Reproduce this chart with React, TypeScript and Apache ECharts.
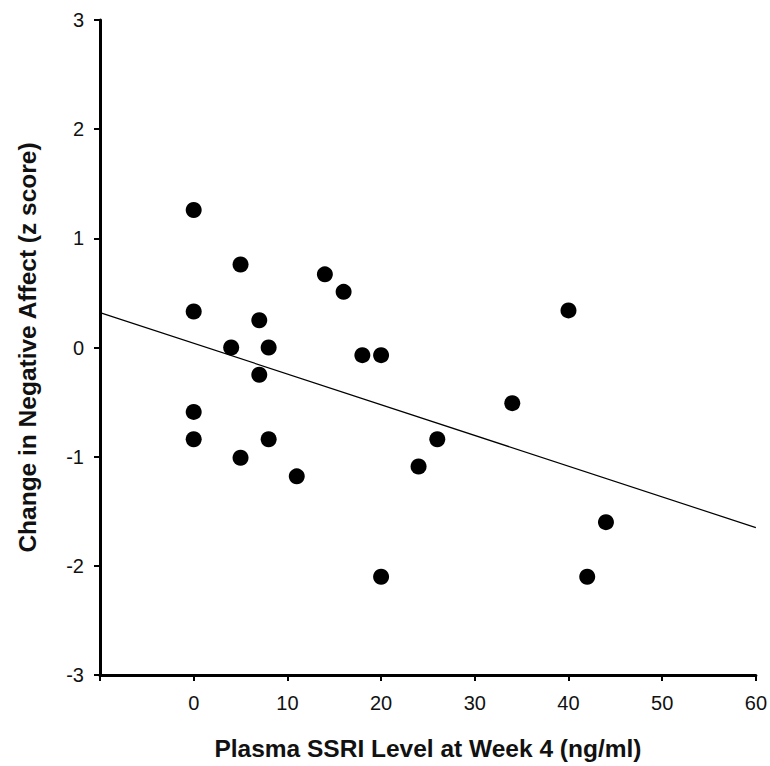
import React, { useEffect, useRef } from "react";
import * as echarts from "echarts";

const ssriLevel = [0, 0, 0, 0, 5, 5, 4, 14, 16, 7, 8, 18, 20, 7, 8, 11, 26, 24, 40, 34, 44, 42, 20];
const affectChange = [1.26, 0.33, -0.59, -0.84, 0.76, -1.01, 0, 0.67, 0.51, 0.25, 0, -0.07, -0.07, -0.25, -0.84, -1.18, -0.84, -1.09, 0.34, -0.51, -1.6, -2.1, -2.1];
const fitLineX = [-10, 60];
const fitLineY = [0.32, -1.65];
const xTicks = [-10, 0, 10, 20, 30, 40, 50, 60];
const yTicks = [-3, -2, -1, 0, 1, 2, 3];

const FONT = "'Liberation Sans', Arial, Helvetica, sans-serif";

export default function App() {
  const ref = useRef<HTMLDivElement>(null);
  useEffect(() => {
    if (!ref.current) return;
    const chart = echarts.init(ref.current, undefined, { renderer: "svg" });
    const points = ssriLevel.map((x, i) => [x, affectChange[i]]);
    const fit = fitLineX.map((x, i) => [x, fitLineY[i]]);
    chart.setOption({
      animation: false,
      backgroundColor: "#ffffff",
      grid: { left: 100, right: 12, top: 20, bottom: 91, containLabel: false },
      xAxis: {
        type: "value",
        min: xTicks[0],
        max: xTicks[xTicks.length - 1],
        interval: 10,
        name: "Plasma SSRI Level at Week 4 (ng/ml)",
        nameLocation: "middle",
        nameGap: 61,
        nameTextStyle: { fontFamily: FONT, fontSize: 24.5, fontWeight: "bold", color: "#111" },
        axisLine: { show: true, onZero: false, lineStyle: { color: "#000", width: 3 } },
        axisTick: { show: true, length: 6, lineStyle: { color: "#000", width: 2 } },
        axisLabel: {
          fontFamily: FONT,
          fontSize: 20,
          color: "#111",
          margin: 18,
          formatter: (v: number) => (v === xTicks[0] ? "" : String(v)),
        },
        splitLine: { show: false },
      },
      yAxis: {
        type: "value",
        min: yTicks[0],
        max: yTicks[yTicks.length - 1],
        interval: 1,
        name: "Change in Negative Affect (z score)",
        nameLocation: "middle",
        nameGap: 60,
        nameTextStyle: { fontFamily: FONT, fontSize: 24.5, fontWeight: "bold", color: "#111" },
        axisLine: { show: true, onZero: false, lineStyle: { color: "#000", width: 3 } },
        axisTick: { show: true, length: 6, lineStyle: { color: "#000", width: 2 } },
        axisLabel: { fontFamily: FONT, fontSize: 20, color: "#111", margin: 16 },
        splitLine: { show: false },
      },
      series: [
        {
          type: "line",
          data: fit,
          symbol: "none",
          lineStyle: { color: "#000", width: 1.2 },
          silent: true,
          z: 1,
        },
        {
          type: "scatter",
          data: points,
          symbol: "circle",
          symbolSize: 16,
          itemStyle: { color: "#000", opacity: 1 },
          z: 2,
        },
      ],
    });
    return () => chart.dispose();
  }, []);
  return <div ref={ref} style={{ width: 770, height: 766, position: "absolute", left: 0, top: 0 }} />;
}
